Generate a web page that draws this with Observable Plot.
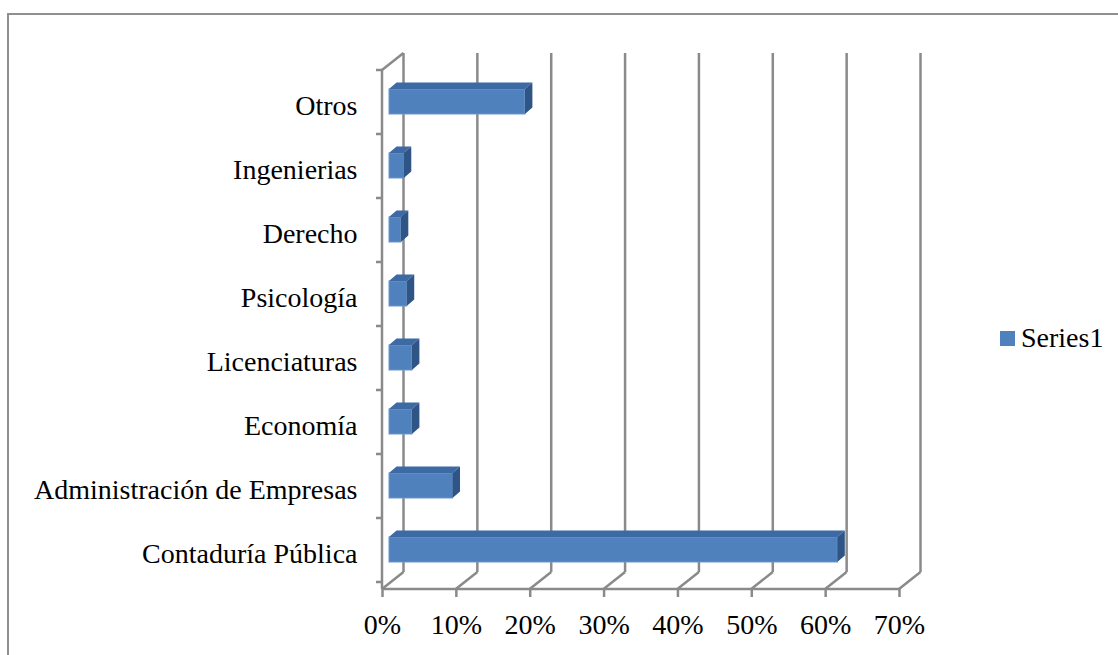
<!DOCTYPE html>
<html>
<head>
<meta charset="utf-8">
<script src="https://cdn.jsdelivr.net/npm/d3@7"></script>
<script src="https://cdn.jsdelivr.net/npm/@observablehq/plot@0.6"></script>
<style>
  html, body { margin: 0; padding: 0; background: #fff; overflow: hidden; }
  #wrap { position: relative; width: 1118px; height: 655px; overflow: hidden; }
  #frame { position: absolute; left: 7px; top: 13px; width: 1300px; height: 900px; border: 2px solid #8f8f8f; box-sizing: border-box; }
  #chart { position: absolute; left: 0; top: 0; }
</style>
</head>
<body>
<div id="wrap">
  <div id="frame"></div>
  <div id="chart"></div>
</div>
<script>
// ---- data ----
const categories = ["Contaduría Pública", "Administración de Empresas", "Economía", "Licenciaturas", "Psicología", "Derecho", "Ingenierias", "Otros"];
const values = [0.607, 0.086, 0.031, 0.031, 0.024, 0.016, 0.020, 0.184];
const xTicks = [0, 0.1, 0.2, 0.3, 0.4, 0.5, 0.6, 0.7];
const seriesName = "Series1";

const data = categories.map((c, i) => ({category: c, value: values[i]}));
const order = categories.slice().reverse();

// ---- style constants ----
const FONT = "'Liberation Serif', 'Times New Roman', serif";
const GRID = "#8a8a8a";
const FRONT = "#4F81BD";
const TOP = "#3D6AA4";
const SIDE = "#2F5587";
const DEPTH_X = 21.5, DEPTH_Y = -17;   // back wall offset
const BAR_DX = 7;                        // bar front plane offset
const FACE_DX = 7.5, FACE_DY = -6.5;     // bar depth
const INSET_TOP = 15, INSET_BOTTOM = 24;

function walls(index, scales, values, dims) {
  const g = d3.create("svg:g").attr("stroke", GRID).attr("stroke-width", 2.5).attr("fill", "none");
  const x = scales.x, y = scales.y;
  const top = dims.marginTop, bottom = dims.height - dims.marginBottom;
  const x0 = x(0), xEnd = x(xTicks[xTicks.length - 1]);
  for (const t of xTicks) {
    g.append("line").attr("x1", x(t) + DEPTH_X).attr("x2", x(t) + DEPTH_X)
      .attr("y1", top + DEPTH_Y).attr("y2", bottom + DEPTH_Y);
    g.append("line").attr("x1", x(t)).attr("x2", x(t) + DEPTH_X)
      .attr("y1", bottom).attr("y2", bottom + DEPTH_Y);
  }
  g.append("line").attr("x1", x0).attr("x2", xEnd).attr("y1", bottom).attr("y2", bottom);
  g.append("line").attr("x1", x0).attr("x2", x0).attr("y1", top).attr("y2", bottom);
  g.append("line").attr("x1", x0).attr("x2", x0 + DEPTH_X).attr("y1", top).attr("y2", top + DEPTH_Y);
  const bw = y.bandwidth ? y.bandwidth() : (bottom - top) / order.length;
  for (let i = 0; i <= order.length; i++) {
    const yy = top + i * bw;
    g.append("line").attr("x1", x0 - 6).attr("x2", x0).attr("y1", yy).attr("y2", yy);
  }
  return g.node();
}

function faces(index, scales, values, dims) {
  const g = d3.create("svg:g");
  const x = scales.x, y = scales.y;
  const bw = y.bandwidth ? y.bandwidth() : (dims.height - dims.marginTop - dims.marginBottom) / order.length;
  for (const d of data) {
    const xa = x(0) + BAR_DX, xb = x(d.value) + BAR_DX;
    const yt = y(d.category) + INSET_TOP, yb = y(d.category) + bw - INSET_BOTTOM;
    g.append("polygon")
      .attr("points", [[xa, yt], [xb, yt], [xb + FACE_DX, yt + FACE_DY], [xa + FACE_DX, yt + FACE_DY]].map(p => p.join(",")).join(" "))
      .attr("fill", TOP);
    g.append("polygon")
      .attr("points", [[xb, yt], [xb + FACE_DX, yt + FACE_DY], [xb + FACE_DX, yb + FACE_DY], [xb, yb]].map(p => p.join(",")).join(" "))
      .attr("fill", SIDE);
  }
  return g.node();
}

const chart = Plot.plot({
  width: 1118,
  height: 655,
  marginLeft: 382,
  marginRight: 219,
  marginTop: 70,
  marginBottom: 66,
  x: {domain: [0, 0.7]},
  y: {type: "band", domain: order, padding: 0},
  style: {fontFamily: FONT, fontSize: "28px", background: "none", color: "#000", overflow: "visible"},
  marks: [
    walls,
    Plot.barX(data, {x: "value", y: "category", fill: FRONT, stroke: "#6d97cc", strokeWidth: 1,
      dx: BAR_DX, insetTop: INSET_TOP, insetBottom: INSET_BOTTOM}),
    faces,
    Plot.axisX({ticks: xTicks, tickFormat: d3.format(".0%"), tickSize: 8, tickPadding: 17,
      stroke: GRID, strokeWidth: 2.5, fill: "#000", fontSize: 28, label: null}),
    Plot.axisY({tickSize: 0, tickPadding: 25, fill: "#000", fontSize: 28, label: null})
  ]
});

const svg = d3.select(chart);
const leg = svg.append("g");
leg.append("rect").attr("x", 1000).attr("y", 331).attr("width", 15).attr("height", 15).attr("fill", FRONT);
leg.append("text").attr("x", 1021).attr("y", 347).attr("text-anchor", "start")
  .attr("font-family", FONT).attr("font-size", 28).attr("fill", "#000").text(seriesName);

document.getElementById("chart").appendChild(chart);
</script>
</body>
</html>
